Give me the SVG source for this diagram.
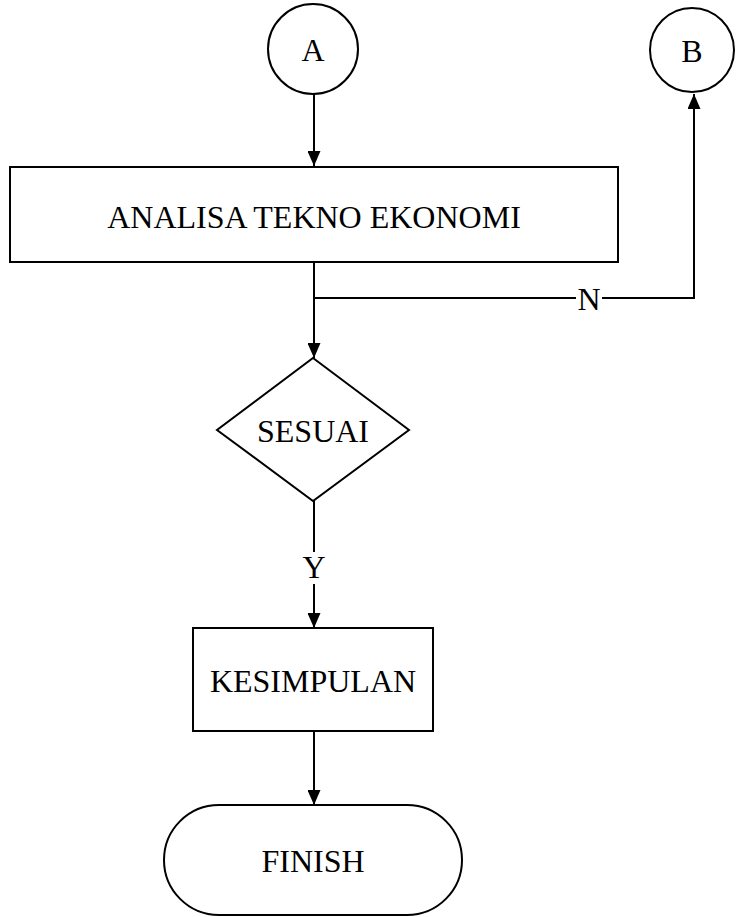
<svg xmlns="http://www.w3.org/2000/svg" width="737" height="917" viewBox="0 0 737 917">
<style>
.s{fill:#fff;stroke:#000;stroke-width:2}
.t{font-family:"Liberation Serif","Times New Roman",serif;font-size:32px;fill:#000;text-anchor:middle;dominant-baseline:central}
.c{fill:none;stroke:#000;stroke-width:2}
</style>
<defs>
<marker id="ar" viewBox="0 0 10 10" refX="10" refY="5" markerWidth="7.5" markerHeight="6.5" markerUnits="strokeWidth" orient="auto" preserveAspectRatio="none">
<path d="M0,0 L10,5 L0,10 z" fill="#000"/>
</marker>
</defs>
<rect width="737" height="917" fill="#fff"/>
<g id="connectors">
<line class="c" x1="314" y1="94" x2="314" y2="166" marker-end="url(#ar)"/>
<line class="c" x1="314" y1="262" x2="314" y2="358" marker-end="url(#ar)"/>
<polyline class="c" points="314,298 694,298 694,94" marker-end="url(#ar)"/>
<line class="c" x1="314" y1="501" x2="314" y2="552"/>
<line class="c" x1="314" y1="584" x2="314" y2="628" marker-end="url(#ar)"/>
<line class="c" x1="314" y1="731" x2="314" y2="805" marker-end="url(#ar)"/>
<rect x="576" y="284" width="26" height="28" fill="#fff"/>
<text class="t" x="589" y="299">N</text>
<text class="t" x="314" y="567">Y</text>
</g>
<g id="nodeA">
<circle class="s" cx="313" cy="49" r="45"/>
<text class="t" x="313" y="50">A</text>
</g>
<g id="nodeB">
<circle class="s" cx="692" cy="50" r="42"/>
<text class="t" x="692" y="51">B</text>
</g>
<g id="analisa">
<rect class="s" x="10" y="167" width="608" height="95"/>
<text class="t" x="314" y="217">ANALISA TEKNO EKONOMI</text>
</g>
<g id="sesuai">
<polygon class="s" points="313,358 409,430 313,501 217,430"/>
<text class="t" x="313" y="431">SESUAI</text>
</g>
<g id="kesimpulan">
<rect class="s" x="193" y="628" width="240" height="103"/>
<text class="t" x="313" y="681">KESIMPULAN</text>
</g>
<g id="finish">
<rect class="s" x="164" y="805" width="298" height="110" rx="55" ry="55"/>
<text class="t" x="313" y="861">FINISH</text>
</g>
</svg>
